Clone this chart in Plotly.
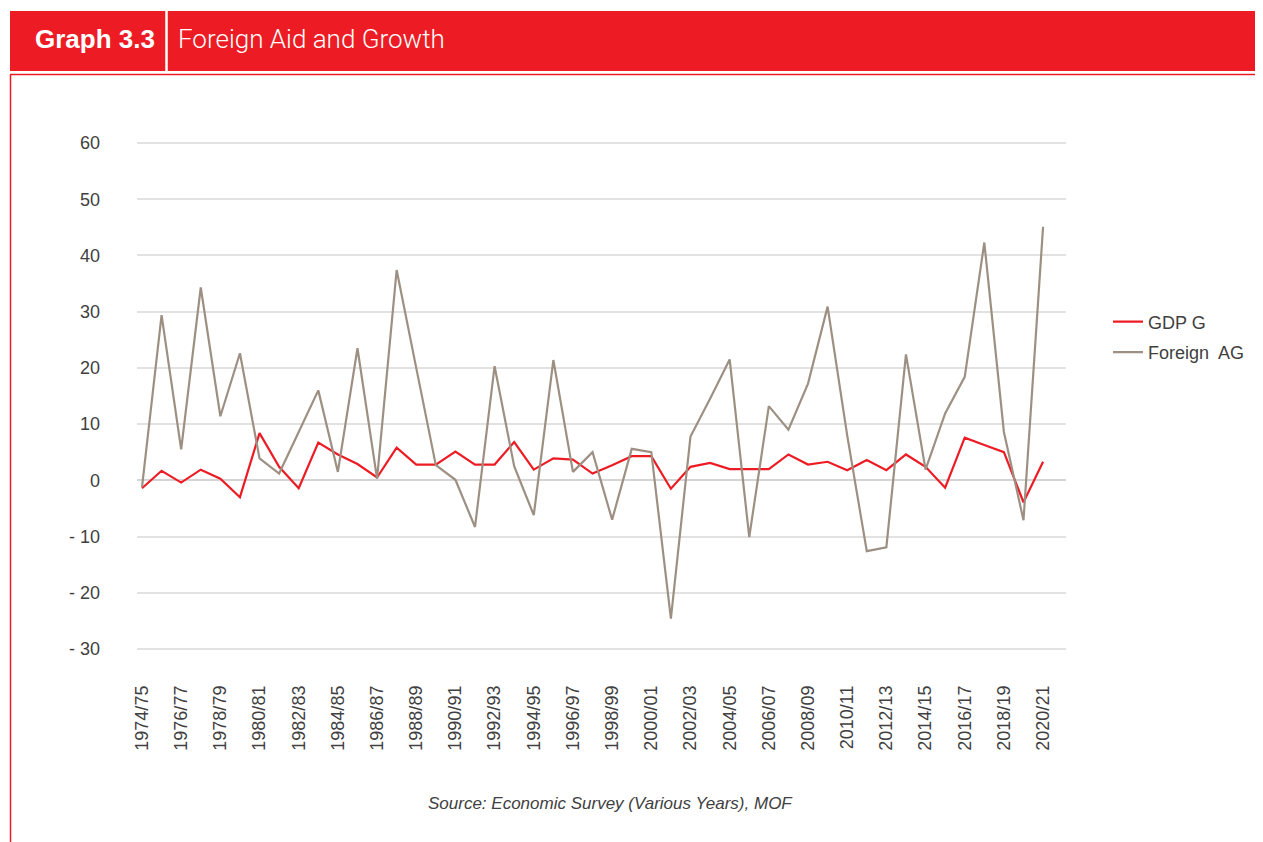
import plotly.graph_objects as go

# fiscal years on the x axis
years = ["1974/75", "1975/76", "1976/77", "1977/78", "1978/79", "1979/80", "1980/81",
         "1981/82", "1982/83", "1983/84", "1984/85", "1985/86", "1986/87", "1987/88",
         "1988/89", "1989/90", "1990/91", "1991/92", "1992/93", "1993/94", "1994/95",
         "1995/96", "1996/97", "1997/98", "1998/99", "1999/00", "2000/01", "2001/02",
         "2002/03", "2003/04", "2004/05", "2005/06", "2006/07", "2007/08", "2008/09",
         "2009/10", "2010/11", "2011/12", "2012/13", "2013/14", "2014/15", "2015/16",
         "2016/17", "2017/18", "2018/19", "2019/20", "2020/21"]

gdp_g = [-1.4, 1.7, -0.4, 1.9, 0.3, -3.0, 8.4, 2.4, -1.4, 6.7,
         4.6, 2.9, 0.5, 5.8, 2.8, 2.8, 5.1, 2.8, 2.8, 6.8,
         1.9, 3.9, 3.7, 1.2, 2.7, 4.3, 4.3, -1.5, 2.4, 3.1,
         2.0, 2.0, 2.0, 4.6, 2.8, 3.3, 1.8, 3.6, 1.8, 4.6,
         2.4, -1.3, 7.6, 6.3, 5.0, -3.9, 3.3]

foreign_ag = [-1.2, 29.4, 5.5, 34.3, 11.4, 22.6, 3.9, 1.2, 8.6, 16.0,
              1.5, 23.5, 0.3, 37.4, 20.0, 2.7, 0.1, -8.3, 20.3, 2.5,
              -6.2, 21.4, 1.5, 5.0, -7.0, 5.6, 5.0, -24.6, 7.8, 14.5,
              21.5, -10.1, 13.2, 9.0, 17.2, 30.9, 8.0, -12.6, -11.9, 22.4,
              1.9, 11.9, 18.4, 42.3, 8.6, -7.1, 45.1]

y_ticks = [-30, -20, -10, 0, 10, 20, 30, 40, 50, 60]
y_ticktext = ["- 30", "- 20", "- 10", "0", "10", "20", "30", "40", "50", "60"]

RED = "#ED1C24"
TAUPE = "#9D9083"
TXT = "#404040"
FONT = "Liberation Sans, Arial, sans-serif"

# the page body has an 8px margin, so the figure sits at (8, 8)
OFF = 8
W, H = 1263 - OFF, 842 - OFF
L, R, T, B = 137 - OFF, 1066 - OFF, 141 - OFF, 651 - OFF


def xp(px):
    # page pixel -> paper coordinate
    return (px - OFF - L) / (R - L)


def yp(py):
    return (B - (py - OFF)) / (B - T)


fig = go.Figure()
fig.add_trace(go.Scatter(x=years, y=gdp_g, name="GDP G", mode="lines",
                         line=dict(color=RED, width=2.2), legendgroup="a"))
fig.add_trace(go.Scatter(x=years, y=foreign_ag, name="Foreign  AG", mode="lines",
                         line=dict(color=TAUPE, width=2.2), legendgroup="b"))

fig.update_layout(
    width=W, height=H,
    margin=dict(l=L, r=W - R, t=T, b=H - B, pad=0),
    paper_bgcolor="white", plot_bgcolor="white",
    font=dict(family=FONT, color=TXT, size=18),
    showlegend=True,
    legend=dict(x=xp(1108), y=yp(337), xanchor="left", yanchor="middle",
                font=dict(size=18, color=TXT), tracegroupgap=4,
                bgcolor="rgba(0,0,0,0)"),
    xaxis=dict(type="category", range=[-0.255, 47.17], tickmode="array",
               tickvals=years[::2], tickangle=-90, showgrid=False,
               zeroline=False, showline=False, ticks="",
               ticklabelstandoff=30, tickfont=dict(size=18, color=TXT)),
    yaxis=dict(range=[-30.36, 60.36], tickvals=y_ticks, ticktext=y_ticktext,
               showgrid=True, gridcolor="#E2E2E2", gridwidth=2,
               zeroline=True, zerolinecolor="#D4D4D4", zerolinewidth=2,
               showline=False, ticks="", ticklabelstandoff=36,
               tickfont=dict(size=18, color=TXT)),
)

# header band and frame
fig.add_shape(type="rect", xref="paper", yref="paper",
              x0=xp(10), x1=xp(1263), y0=yp(71), y1=yp(11),
              fillcolor=RED, line_width=0, layer="above")
fig.add_shape(type="line", xref="paper", yref="paper",
              x0=xp(166.5), x1=xp(166.5), y0=yp(11), y1=yp(71),
              line=dict(color="white", width=2.5), layer="above")
fig.add_shape(type="line", xref="paper", yref="paper",
              x0=xp(10), x1=xp(1263), y0=yp(74.5), y1=yp(74.5),
              line=dict(color=RED, width=1.5), layer="above")
fig.add_shape(type="line", xref="paper", yref="paper",
              x0=xp(10.5), x1=xp(10.5), y0=yp(74.5), y1=yp(842),
              line=dict(color=RED, width=1.5), layer="above")

fig.add_annotation(text="<b>Graph 3.3</b>", xref="paper", yref="paper",
                   x=xp(33), y=yp(39), xanchor="left", yanchor="middle",
                   showarrow=False, font=dict(family=FONT, size=26, color="white"))
fig.add_annotation(text="Foreign Aid and Growth", xref="paper", yref="paper",
                   x=xp(176), y=yp(39), xanchor="left", yanchor="middle",
                   showarrow=False,
                   font=dict(family="Roboto, Liberation Sans, sans-serif", size=26,
                             color="white", weight=300))
fig.add_annotation(text="<i>Source: Economic Survey (Various Years), MOF</i>",
                   xref="paper", yref="paper", x=xp(610), y=yp(803),
                   xanchor="center", yanchor="middle", showarrow=False,
                   font=dict(family=FONT, size=17, color=TXT))

fig.write_html("out.html")
